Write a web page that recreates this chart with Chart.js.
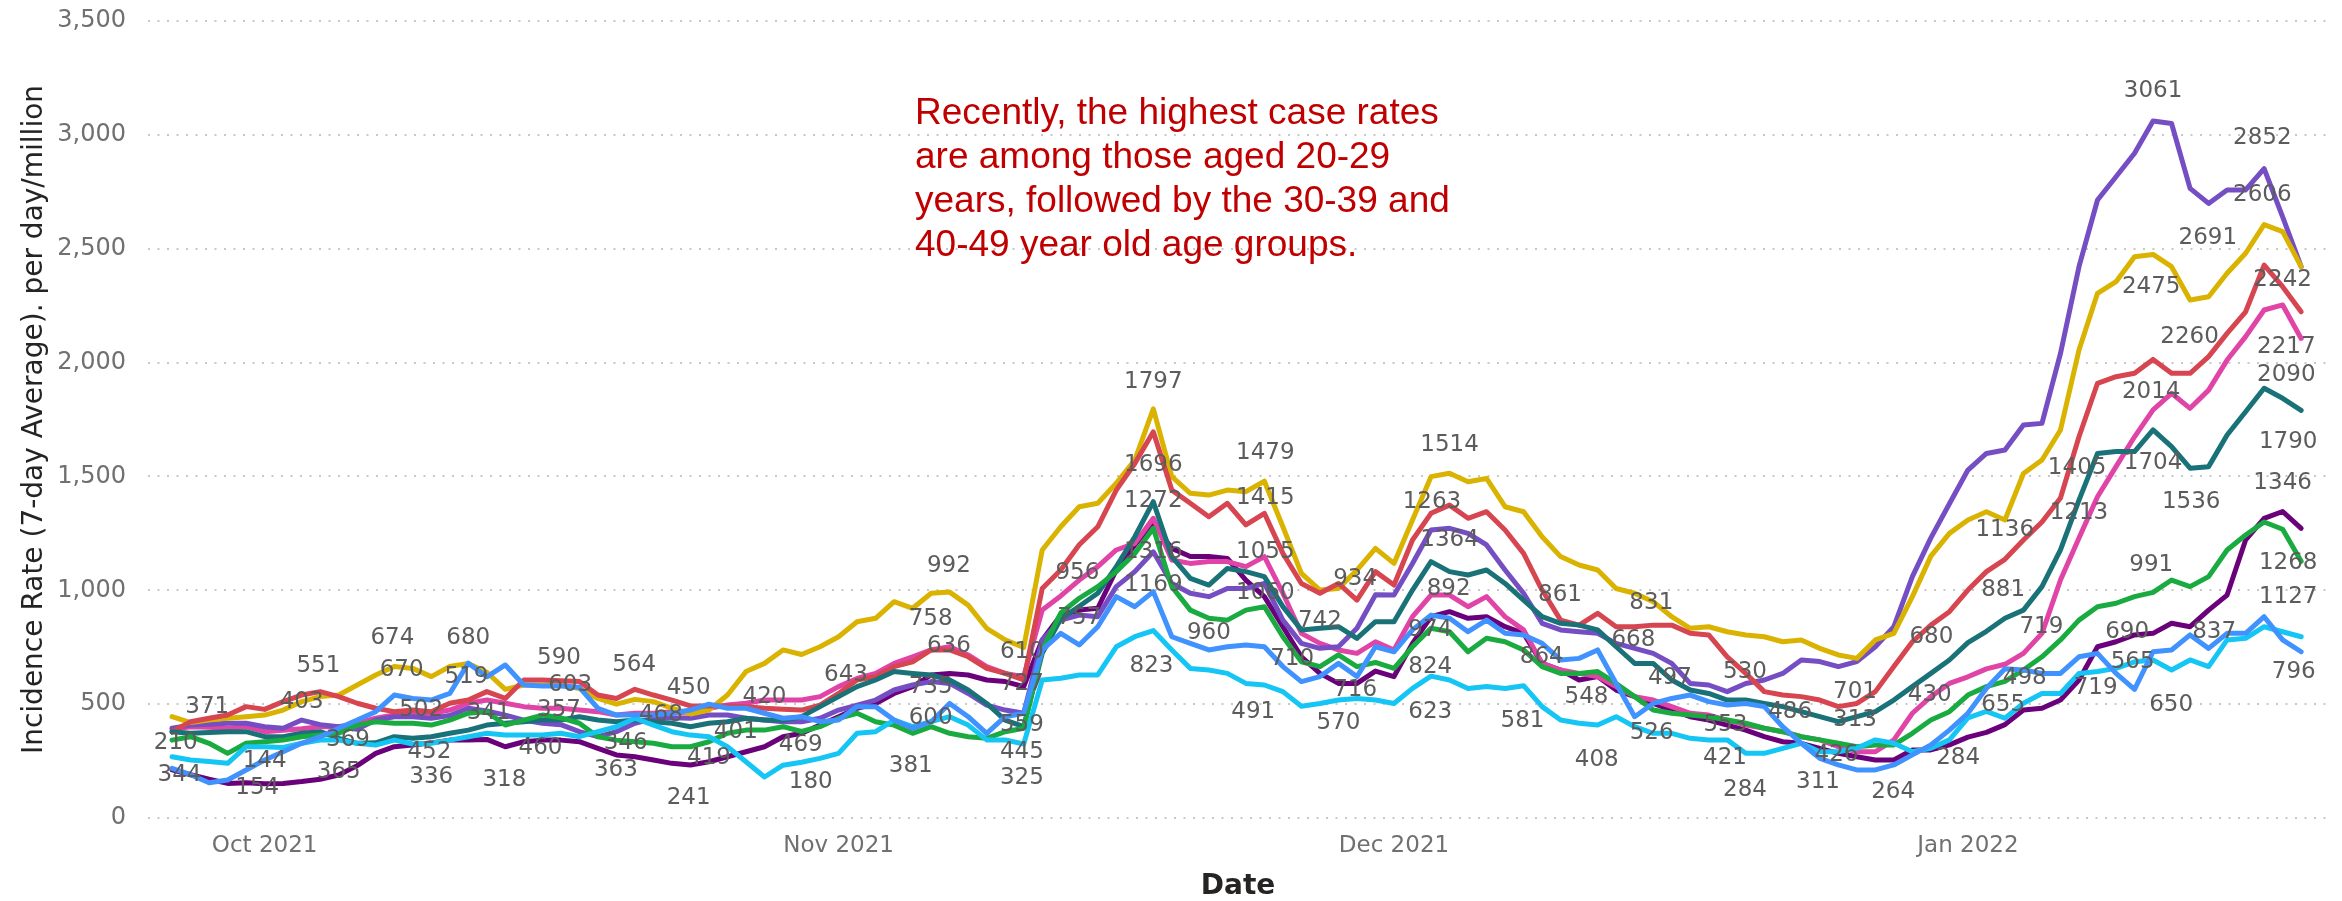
<!DOCTYPE html>
<html>
<head>
<meta charset="utf-8">
<script src="https://cdn.jsdelivr.net/npm/chart.js@4.4.0/dist/chart.umd.min.js"></script>
<style>
    html, body { margin: 0; padding: 0; background: #fff; }
    #wrap { position: relative; width: 2342px; height: 901px; }
    #note {
        position: absolute; left: 915px; top: 90px;
        font-family: "Liberation Sans", Arial, sans-serif;
        font-size: 37px; line-height: 44px; color: #c00000; white-space: nowrap;
    }
</style>
</head>
<body>
<div id="wrap">
    <canvas id="myChart" width="2342" height="901"></canvas>
    <div id="note">Recently, the highest case rates<br>are among those aged 20-29<br>years, followed by the 30-39 and<br>40-49 year old age groups.</div>
</div>
<script>
// first date of the daily series, one value per day after that
const startDate = '2021-09-26';

const monthTicks = ['2021-10-01', '2021-11-01', '2021-12-01', '2022-01-01'];
const tickLabels = ['Oct 2021', 'Nov 2021', 'Dec 2021', 'Jan 2022'];

const ageGroups = ['0-9', '10-19', '20-29', '30-39', '40-49', '50-59', '60-69', '70-79', '80+'];

const age0to9 = [
    211, 190, 170, 152, 155, 150, 152, 160, 170, 189, 230, 284, 313, 320, 330, 342, 342, 345,
    313, 335, 342, 342, 335, 306, 277, 269, 255, 240, 233, 247, 269, 291, 313, 357, 372,
    408, 445, 482, 503, 547, 577, 628, 635, 628, 606, 599, 577, 782,
    890, 913, 921, 1089, 1199, 1294, 1184, 1148, 1148, 1140, 1045, 972, 840, 708, 635, 591, 591,
    645, 621, 767, 884, 906, 877, 884, 840, 811, 679, 650, 606, 621, 562, 533, 503, 474, 445,
    430, 408, 386, 357, 335, 328, 306, 284, 269, 255, 255, 299, 299, 321,
    355, 376, 410, 474, 482, 518, 606, 752, 774, 804, 811, 855, 840, 913, 979, 1221, 1316, 1346, 1272
];
const age10to19 = [
    390, 401, 398, 394, 401, 379, 385, 392, 401, 401, 416, 438, 452, 460, 460, 474, 504, 518,
    504, 489, 482, 482, 474, 467, 452, 460, 460, 467, 460, 482, 496, 504, 518, 518, 518,
    533, 577, 613, 635, 679, 708, 738, 752, 716, 665, 635, 621, 913,
    975, 1045, 1104, 1177, 1206, 1316, 1133, 1118, 1126, 1126, 1104, 1148, 987, 811, 767, 738, 723,
    774, 738, 884, 979, 979, 928, 972, 884, 826, 679, 650, 635, 621, 577, 533, 518, 489, 460,
    452, 430, 408, 394, 379, 357, 343, 313, 291, 291, 343, 460, 533, 591,
    620, 655, 675, 723, 811, 1045, 1230, 1411, 1543, 1674, 1792, 1865, 1799, 1879, 2011, 2114, 2231, 2253, 2106
];
const age20to29 = [
    394, 408, 412, 416, 416, 401, 394, 430, 410, 401, 390, 430, 445, 445, 438, 450, 482, 470,
    452, 430, 416, 410, 379, 357, 379, 416, 438, 440, 438, 452, 452, 438, 430, 423, 423,
    438, 474, 496, 518, 562, 584, 599, 591, 547, 496, 474, 460, 782,
    869, 891, 884, 1016, 1082, 1169, 1030, 987, 972, 1008, 1008, 1030, 869, 767, 745, 752, 833,
    980, 979, 1118, 1265, 1272, 1250, 1199, 1089, 987, 855, 826, 818, 811, 767, 745, 723, 679, 591,
    584, 555, 591, 606, 635, 694, 687, 665, 687, 752, 840, 1060, 1230, 1380,
    1528, 1601, 1616, 1726, 1733, 2040, 2421, 2714, 2816, 2919, 3061, 3050, 2765, 2699, 2758, 2758, 2852, 2640, 2421
];
const age30to39 = [
    445, 419, 430, 438, 445, 452, 474, 511, 533, 540, 584, 628, 665, 657, 621, 665, 679, 640,
    565, 584, 584, 584, 569, 525, 500, 521, 511, 482, 457, 474, 540, 643, 679, 738, 718,
    752, 796, 862, 877, 950, 921, 987, 992, 935, 833, 782, 749, 1177,
    1279, 1367, 1382, 1470, 1572, 1797, 1499, 1426, 1418, 1440, 1433, 1479, 1279, 1074, 1001, 1008, 1089,
    1184, 1118, 1309, 1499, 1514, 1477, 1491, 1367, 1345, 1235, 1148, 1111, 1089, 1008, 987, 950, 884, 833,
    840, 818, 804, 796, 774, 782, 745, 716, 701, 782, 811, 972, 1150, 1250,
    1309, 1345, 1309, 1513, 1572, 1704, 2055, 2304, 2355, 2465, 2475, 2421, 2275, 2289, 2392, 2480, 2606, 2575, 2421
];
const age40to49 = [
    379, 423, 438, 452, 489, 477, 511, 540, 555, 533, 504, 482, 467, 474, 467, 504, 518, 555,
    525, 606, 606, 603, 599, 540, 525, 565, 540, 518, 492, 492, 492, 489, 482, 478, 474,
    496, 547, 606, 621, 665, 686, 738, 738, 708, 657, 635, 606, 1008,
    1089, 1200, 1279, 1440, 1557, 1696, 1440, 1382, 1323, 1382, 1287, 1338, 1162, 1030, 987, 1030, 957,
    1082, 1023, 1221, 1338, 1374, 1316, 1345, 1265, 1162, 1001, 869, 847, 899, 840, 840, 847, 847, 811,
    804, 708, 635, 555, 540, 533, 518, 489, 503, 555, 665, 774, 847, 906,
    1001, 1082, 1136, 1221, 1300, 1405, 1674, 1909, 1938, 1953, 2014, 1953, 1953, 2026, 2128, 2223, 2428, 2333, 2223
];
const age50to59 = [
    379, 372, 376, 379, 379, 357, 357, 372, 379, 350, 328, 330, 357, 350, 357, 372, 386, 408,
    416, 423, 430, 430, 445, 430, 423, 430, 423, 416, 401, 416, 423, 438, 430, 430, 445,
    489, 533, 577, 606, 643, 635, 628, 606, 562, 503, 430, 401, 723,
    875, 930, 987, 1104, 1235, 1389, 1148, 1052, 1023, 1096, 1082, 1060, 928, 826, 833, 840, 789,
    862, 862, 1001, 1126, 1082, 1067, 1089, 1030, 957, 884, 855, 847, 826, 752, 679, 679, 606, 562,
    547, 518, 518, 503, 489, 467, 445, 423, 445, 467, 518, 577, 635, 694,
    770, 820, 877, 913, 1016, 1177, 1396, 1601, 1609, 1609, 1704, 1631, 1536, 1543, 1682, 1784, 1887, 1843, 1790
];
const age60to69 = [
    342, 357, 328, 284, 328, 335, 342, 357, 364, 372, 408, 423, 416, 416, 408, 430, 460, 467,
    408, 430, 452, 440, 416, 357, 342, 335, 328, 313, 313, 335, 372, 386, 386, 401, 380,
    401, 438, 460, 423, 408, 372, 401, 372, 357, 350, 379, 394, 738,
    900, 965, 1016, 1082, 1162, 1272, 1016, 913, 877, 869, 913, 928, 796, 686, 665, 716, 665,
    683, 657, 752, 833, 818, 730, 789, 774, 738, 665, 635, 635, 643, 591, 533, 474, 460, 452,
    445, 430, 416, 394, 379, 357, 343, 328, 313, 321, 321, 372, 430, 467,
    540, 577, 600, 650, 708, 782, 869, 928, 943, 972, 991, 1045, 1016, 1060, 1177, 1243, 1300, 1268, 1127
];
const age70to79 = [
    269, 255, 248, 240, 313, 313, 310, 328, 342, 342, 328, 320, 342, 325, 328, 342, 357, 372,
    364, 364, 364, 372, 357, 379, 401, 438, 408, 379, 364, 357, 313, 247, 180, 232, 245,
    262, 284, 372, 379, 430, 401, 423, 445, 408, 343, 343, 325, 606,
    614, 628, 628, 752, 796, 823, 738, 657, 650, 635, 591, 584, 555, 491, 503, 518, 525,
    518, 503, 569, 623, 606, 569, 577, 569, 581, 489, 430, 416, 408, 445, 401, 372, 372, 350,
    343, 343, 284, 284, 306, 328, 291, 291, 306, 343, 328, 291, 306, 343,
    440, 468, 438, 504, 547, 547, 635, 643, 657, 686, 694, 650, 694, 665, 782, 789, 840, 818, 796
];
const age80plus = [
    218, 190, 155, 167, 211, 255, 291, 328, 357, 394, 430, 467, 540, 525, 518, 547, 680, 620,
    672, 584, 580, 580, 574, 482, 452, 452, 452, 460, 474, 500, 482, 482, 460, 438, 445,
    423, 430, 489, 489, 430, 394, 423, 503, 445, 372, 445, 460, 738,
    811, 760, 840, 972, 928, 994, 796, 767, 738, 752, 760, 752, 665, 599, 621, 679, 621,
    752, 730, 826, 891, 877, 818, 869, 811, 804, 767, 694, 701, 738, 591, 445, 503, 525, 540,
    511, 496, 503, 489, 401, 328, 262, 233, 211, 211, 233, 277, 321, 386,
    460, 570, 655, 650, 635, 635, 708, 723, 635, 565, 730, 738, 804, 745, 811, 811, 884, 782, 730
];

// value labels as shown on the chart: [day, height on value axis, text]
const pointLabels = [
    [0.2, 330, '210'], [0.4, 190, '344'], [1.9, 486, '371'], [5.0, 250, '144'], [4.6, 130, '154'],
    [7.0, 511, '403'], [7.9, 667, '551'], [9.5, 342, '369'], [9.0, 203, '365'], [11.9, 789, '674'],
    [12.4, 650, '670'], [13.45, 474, '502'], [13.9, 291, '452'], [14.0, 181, '336'], [16.0, 789, '680'],
    [15.9, 621, '519'], [17.1, 463, '341'], [17.95, 167, '318'], [20.9, 701, '590'], [21.5, 584, '603'],
    [20.9, 474, '357'], [19.9, 306, '460'], [24.96, 672, '564'], [24.5, 328, '346'], [23.97, 211, '363'],
    [26.4, 452, '468'], [27.9, 569, '450'], [27.9, 86, '241'], [29.0, 262, '419'], [30.45, 379, '401'],
    [32.0, 533, '420'], [33.96, 321, '469'], [34.5, 160, '180'], [36.4, 628, '643'], [41.96, 1107, '992'],
    [40.97, 872, '758'], [41.96, 755, '636'], [40.97, 577, '735'], [40.97, 438, '600'], [39.9, 228, '381'],
    [45.9, 730, '610'], [45.9, 588, '727'], [45.9, 408, '559'], [45.9, 291, '445'], [45.9, 174, '325'],
    [48.9, 1074, '956'], [49.0, 877, '757'], [53.0, 1916, '1797'], [53.0, 1550, '1696'], [53.0, 1393, '1272'],
    [53.0, 1169, '1316'], [53.0, 1023, '1169'], [52.9, 667, '823'], [56.0, 814, '960'], [59.05, 1601, '1479'],
    [59.05, 1404, '1415'], [59.05, 1169, '1055'], [59.05, 986, '1060'], [58.4, 467, '491'], [62.0, 866, '742'],
    [60.5, 697, '710'], [63.0, 419, '570'], [63.9, 562, '716'], [63.9, 1048, '934'], [69.0, 1638, '1514'],
    [68.05, 1389, '1263'], [69.0, 1221, '1364'], [68.95, 1004, '892'], [67.96, 826, '974'], [67.96, 664, '824'],
    [67.96, 467, '623'], [74.97, 979, '861'], [73.98, 708, '864'], [72.94, 427, '581'], [76.4, 533, '548'],
    [76.95, 255, '408'], [79.9, 943, '831'], [78.93, 782, '668'], [80.9, 613, '497'], [79.92, 372, '526'],
    [84.96, 643, '530'], [83.9, 408, '553'], [83.88, 262, '421'], [84.96, 123, '284'], [87.4, 467, '486'],
    [89.9, 277, '426'], [88.9, 160, '311'], [90.9, 555, '701'], [90.9, 430, '313'], [92.96, 116, '264'],
    [95.03, 796, '680'], [94.94, 540, '430'], [96.47, 262, '284'], [98.9, 1001, '881'], [98.99, 1265, '1136'],
    [100.97, 840, '719'], [98.9, 496, '655'], [100.07, 613, '498'], [102.9, 1535, '1405'], [103.0, 1338, '1213'],
    [103.9, 569, '719'], [106.9, 2333, '2475'], [106.9, 1872, '2014'], [107.0, 1557, '1704'], [107.0, 3192, '3061'],
    [106.9, 1111, '991'], [105.6, 818, '690'], [105.9, 686, '565'], [107.98, 496, '650'], [109.96, 2545, '2691'],
    [108.97, 2114, '2260'], [109.06, 1389, '1536'], [110.3, 818, '837'], [112.9, 2984, '2852'], [112.9, 2736, '2606'],
    [114.0, 2362, '2242'], [114.2, 2070, '2217'], [114.2, 1945, '2090'], [114.3, 1652, '1790'], [114.0, 1470, '1346'],
    [114.3, 1118, '1268'], [114.3, 972, '1127'], [114.6, 643, '796']
];

const dayMs = 86400000;
const dayOf = (iso) => Math.round((Date.parse(iso) - Date.parse(startDate)) / dayMs);
const tickDays = monthTicks.map(dayOf);

const toPoints = (values) => values.map((v, i) => ({ x: i, y: v }));

const lineStyle = (label, values, color) => ({
    label: label,
    data: toPoints(values),
    borderColor: color,
    backgroundColor: color,
    borderWidth: 5,
    pointRadius: 0,
    tension: 0,
    fill: false,
    borderJoinStyle: 'round',
    borderCapStyle: 'round'
});

// labels drawn over the lines
const labelPlugin = {
    id: 'pointLabels',
    afterDatasetsDraw(chart) {
        const { ctx, scales: { x, y } } = chart;
        ctx.save();
        ctx.font = '23px "DejaVu Sans"';
        ctx.fillStyle = '#5c5c5c';
        ctx.textAlign = 'center';
        ctx.textBaseline = 'middle';
        pointLabels.forEach(([d, v, t]) => {
            ctx.fillText(t, x.getPixelForValue(d), y.getPixelForValue(v));
        });
        ctx.restore();
    }
};

var ctx = document.getElementById('myChart').getContext('2d');

var myChart = new Chart(ctx, {
    type: 'line',
    data: {
        // first dataset is drawn on top
        datasets: [
            lineStyle(ageGroups[8], age80plus, '#4092FF'),
            lineStyle(ageGroups[7], age70to79, '#15C6F4'),
            lineStyle(ageGroups[6], age60to69, '#1AAB40'),
            lineStyle(ageGroups[5], age50to59, '#197278'),
            lineStyle(ageGroups[4], age40to49, '#D64550'),
            lineStyle(ageGroups[3], age30to39, '#D9B300'),
            lineStyle(ageGroups[2], age20to29, '#744EC2'),
            lineStyle(ageGroups[1], age10to19, '#E044A7'),
            lineStyle(ageGroups[0], age0to9, '#6B007B')
        ]
    },
    options: {
        responsive: false,
        animation: false,
        devicePixelRatio: 1,
        layout: { padding: { top: 21, right: 14, bottom: 0, left: 0 } },
        plugins: {
            legend: { display: false },
            tooltip: { enabled: false }
        },
        scales: {
            x: {
                type: 'linear',
                min: -1.3,
                max: 116.45,
                grid: { display: false, drawTicks: false },
                border: { display: false },
                afterBuildTicks: (axis) => { axis.ticks = tickDays.map(v => ({ value: v })); },
                afterFit: (axis) => { axis.height = 83; },
                ticks: {
                    autoSkip: false,
                    maxRotation: 0,
                    padding: 14,
                    color: '#707070',
                    font: { family: 'DejaVu Sans', size: 23 },
                    callback: (v) => {
                        const i = tickDays.indexOf(v);
                        return i >= 0 ? tickLabels[i] : '';
                    }
                },
                title: {
                    display: true,
                    text: 'Date',
                    color: '#252423',
                    font: { family: 'DejaVu Sans', size: 28, weight: '600', lineHeight: 1 },
                    padding: 0
                }
            },
            y: {
                min: 0,
                max: 3500,
                afterFit: (axis) => {
                    axis.width = 148;
                    // keep the plot top fixed by the layout padding only
                    axis.paddingTop = 0;
                    axis.paddingBottom = 0;
                },
                ticks: {
                    stepSize: 500,
                    padding: 22,
                    color: '#707070',
                    font: { family: 'DejaVu Sans', size: 24 }
                },
                grid: { color: '#c8c8c8', lineWidth: 2, drawTicks: false },
                border: { display: false, dash: [2, 7.5] },
                title: {
                    display: true,
                    text: 'Incidence Rate (7-day Average). per day/million',
                    color: '#252423',
                    font: { family: 'DejaVu Sans', size: 28 },
                    padding: { top: 18, bottom: 0 }
                }
            }
        }
    },
    plugins: [labelPlugin]
});

myChart;
</script>
</body>
</html>
